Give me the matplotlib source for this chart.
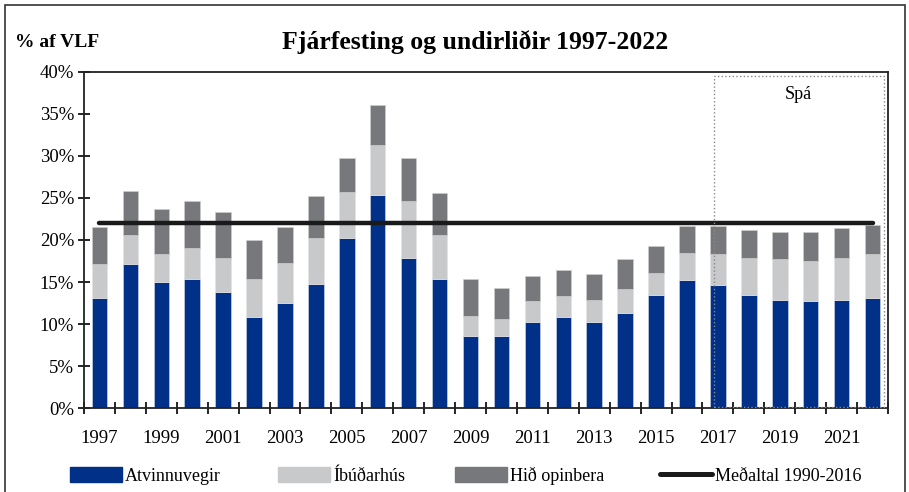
import numpy as np
import matplotlib.pyplot as plt
from matplotlib.patches import Rectangle, Patch
from matplotlib.lines import Line2D

plt.rcParams['font.family'] = ['Liberation Serif', 'DejaVu Serif']

# data, % of GDP
years = np.arange(1997, 2023)
atvinnuvegir = [13.1, 17.1, 15.0, 15.4, 13.8, 10.8, 12.5, 14.8, 20.2, 25.3,
                17.9, 15.4, 8.6, 8.6, 10.2, 10.8, 10.2, 11.3, 13.5, 15.2,
                14.6, 13.5, 12.9, 12.7, 12.9, 13.1]
ibudarhus = [4.0, 3.5, 3.3, 3.6, 4.1, 4.6, 4.8, 5.4, 5.5, 6.0,
             6.7, 5.2, 2.4, 2.0, 2.5, 2.5, 2.7, 2.9, 2.6, 3.3,
             3.7, 4.4, 4.8, 4.8, 5.0, 5.2]
opinbera = [4.5, 5.2, 5.4, 5.6, 5.4, 4.6, 4.3, 5.0, 4.1, 4.8,
            5.2, 5.0, 4.4, 3.7, 3.05, 3.1, 3.1, 3.5, 3.2, 3.2,
            3.4, 3.3, 3.3, 3.5, 3.5, 3.5]
medaltal = 22.0
xlabels = [str(y) for y in range(1997, 2022, 2)]

c_blue = '#003087'
c_light = '#c8c9cb'
c_dark = '#77787b'

fig = plt.figure(figsize=(9.09, 4.92), dpi=100)
ax = fig.add_axes([0.0924, 0.1707, 0.8845, 0.683])

a = np.array(atvinnuvegir)
b = np.array(ibudarhus)
c = np.array(opinbera)
w = 0.5
ax.bar(years, a, width=w, color=c_blue, edgecolor='#d8dce8', linewidth=0.4)
ax.bar(years, b, width=w, bottom=a, color=c_light, edgecolor='#e4e4e4', linewidth=0.4)
ax.bar(years, c, width=w, bottom=a + b, color=c_dark, edgecolor='#d0d0d0', linewidth=0.4)

ax.plot([years[0], years[-1]], [medaltal, medaltal], color='#1a1a1a', lw=3.2,
        solid_capstyle='round', zorder=5)

# forecast box
ax.add_patch(Rectangle((2016.86, 0.1), 5.5, 39.4, fill=False, ls=':',
                       edgecolor='#888888', lw=1.0, zorder=6))
ax.text(2019.6, 37.3, 'Spá', ha='center', va='center', fontsize=13)

ax.set_xlim(1996.5, 2022.5)
ax.set_ylim(0, 40)
ax.set_yticks(np.arange(0, 41, 5))
ax.set_yticklabels([f'{v}%' for v in range(0, 41, 5)], fontsize=13.5)
ax.set_xticks(np.arange(1996.5, 2023, 1))
ax.set_xticklabels([])
ax.set_xticks(range(1997, 2022, 2), minor=True)
ax.set_xticklabels(xlabels, minor=True, fontsize=13.5)
ax.tick_params(axis='x', which='minor', length=0, pad=16)
ax.tick_params(axis='x', which='major', direction='inout', length=9, width=1.2)
ax.tick_params(axis='y', direction='inout', length=8, width=1.2, pad=3)
for s in ax.spines.values():
    s.set_linewidth(1.3)
    s.set_color('#222222')

fig.text(0.523, 0.914, 'Fjárfesting og undirliðir 1997-2022', ha='center',
         va='center', fontsize=18.5, fontweight='bold')
fig.text(0.016, 0.914, '% af VLF', ha='left', va='center', fontsize=14,
         fontweight='bold')

# legend, one entry at a time
handles = [Patch(color=c_blue), Patch(color=c_light), Patch(color=c_dark),
           Line2D([], [], color='#1a1a1a', lw=3.6, solid_capstyle='round')]
labels = ['Atvinnuvegir', 'Íbúðarhús', 'Hið opinbera', 'Meðaltal 1990-2016']
xpos = [70, 278, 455, 660]
for h, lab, xp in zip(handles, labels, xpos):
    fig.legend([h], [lab], loc='center left', bbox_to_anchor=(xp / 909, 1 - 476 / 492),
               frameon=False, fontsize=13, handlelength=2.9, handleheight=0.9,
               handletextpad=0.15, borderpad=0, borderaxespad=0)

# outer frame
fig.add_artist(Rectangle((0.0055, -0.05), 0.99, 1.04, transform=fig.transFigure,
                         fill=False, edgecolor='#333333', lw=1.2))

plt.savefig('out.png', dpi=100)
